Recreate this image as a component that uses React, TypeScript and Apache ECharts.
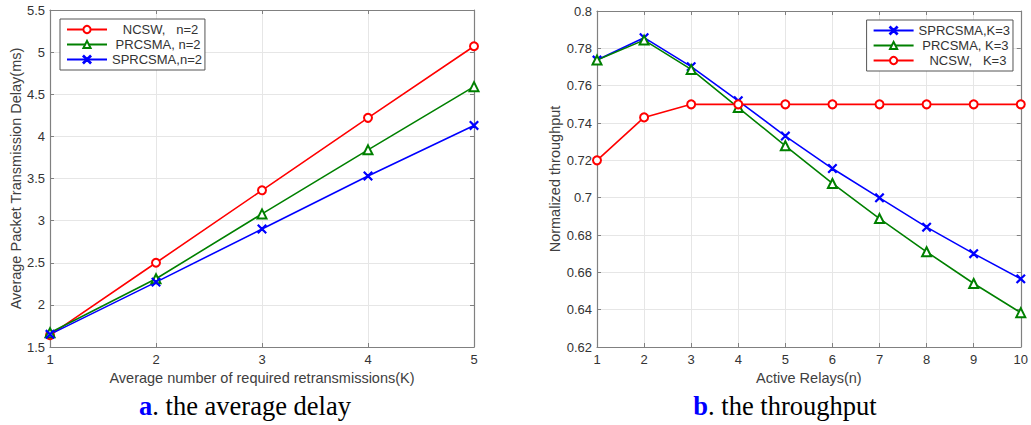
import React, { useEffect, useRef } from "react";
import * as echarts from "echarts";

const kValues = [1, 2, 3, 4, 5];
const delayNCSW = [1.64, 2.5, 3.36, 4.22, 5.07];
const delayPRCSMA = [1.67, 2.31, 3.08, 3.84, 4.59];
const delaySPRCSMA = [1.65, 2.27, 2.9, 3.53, 4.13];

const relays = [1, 2, 3, 4, 5, 6, 7, 8, 9, 10];
const thrSPRCSMA = [0.7737, 0.7857, 0.7702, 0.7519, 0.733, 0.7156, 0.6999, 0.6842, 0.670, 0.6565];
const thrPRCSMA = [0.7737, 0.7844, 0.7687, 0.7483, 0.7278, 0.7076, 0.6888, 0.671, 0.654, 0.6384];
const thrNCSW = [0.72, 0.743, 0.75, 0.75, 0.75, 0.75, 0.75, 0.75, 0.75, 0.75];

const leftNames = ["   NCSW,   n=2", " PRCSMA, n=2", "SPRCSMA,n=2"];
const rightNames = ["SPRCSMA,K=3", " PRCSMA, K=3", "   NCSW,   K=3"];

const RED = "#ff0000";
const GREEN = "#008000";
const BLUE = "#0000ff";
const FRAME = "#808080";
const GRID = "#e6e6e6";
const LABEL = "#333333";
const FONT = "Liberation Sans, Arial, sans-serif";
const SERIF = "Liberation Serif, Times New Roman, serif";
const XSYM = "path://M0,0.7L0.7,0L5,4.3L9.3,0L10,0.7L5.7,5L10,9.3L9.3,10L5,5.7L0.7,10L0,9.3L4.3,5Z";

const zip = (xs: number[], ys: number[]) => xs.map((x, i) => [x, ys[i]]);

function App() {
  const ref = useRef<HTMLDivElement>(null);
  useEffect(() => {
    if (!ref.current) return;
    const chart = echarts.init(ref.current, null, { renderer: "svg" });

    const mkX = (gridIndex: number, min: number, max: number, name: string, top: boolean) => ({
      type: "value",
      gridIndex,
      min,
      max,
      interval: 1,
      position: top ? "top" : "bottom",
      name: top ? "" : name,
      nameLocation: "middle",
      nameGap: 21,
      nameTextStyle: { fontFamily: FONT, fontSize: 14.5, color: "#404040" },
      axisLine: { show: true, onZero: false, lineStyle: { color: FRAME, width: 1.2 } },
      axisTick: { show: true, inside: true, length: 4, lineStyle: { color: FRAME } },
      axisLabel: { show: !top, fontFamily: FONT, fontSize: 13, color: LABEL, margin: 6 },
      splitLine: { show: !top, lineStyle: { color: GRID, width: 1 } },
    });

    const mkY = (
      gridIndex: number,
      min: number,
      max: number,
      interval: number,
      name: string,
      gap: number,
      right: boolean
    ) => ({
      type: "value",
      gridIndex,
      min,
      max,
      interval,
      position: right ? "right" : "left",
      name: right ? "" : name,
      nameLocation: "middle",
      nameGap: gap,
      nameTextStyle: { fontFamily: FONT, fontSize: 14.5, color: "#404040" },
      axisLine: { show: true, onZero: false, lineStyle: { color: FRAME, width: 1.2 } },
      axisTick: { show: true, inside: true, length: 4, lineStyle: { color: FRAME } },
      axisLabel: {
        show: !right,
        fontFamily: FONT,
        fontSize: 13,
        color: LABEL,
        margin: 5,
        formatter: (v: number) => String(parseFloat(v.toFixed(2))),
      },
      splitLine: { show: !right, lineStyle: { color: GRID, width: 1 } },
    });

    const line = (name: string, color: string, symbol: string, size: number, data: number[][], idx: number) => ({
      type: "line",
      name,
      xAxisIndex: idx,
      yAxisIndex: idx,
      data,
      symbol,
      symbolSize: size,
      showAllSymbol: true,
      lineStyle: { color, width: 1.6 },
      itemStyle: { color, borderColor: color, borderWidth: 1.4 },
      emphasis: { disabled: true },
    });

    const legendBase = {
      orient: "vertical",
      itemWidth: 40,
      itemHeight: 9,
      itemGap: 2,
      padding: [4, 3, 4, 6],
      borderColor: "#555",
      borderWidth: 1,
      backgroundColor: "#fff",
      textStyle: { fontFamily: FONT, fontSize: 13, color: LABEL },
      selectedMode: false,
    };

    const caption = (x: number, letter: string, rest: string) => ({
      type: "text",
      x,
      y: 406,
      style: {
        text: `{a|${letter}}{t|${rest}}`,
        align: "center",
        verticalAlign: "middle",
        rich: {
          a: { fontFamily: SERIF, fontSize: 26.5, fontWeight: "bold", fill: BLUE },
          t: { fontFamily: SERIF, fontSize: 26.5, fill: "#000" },
        },
      },
    });

    chart.setOption({
      animation: false,
      backgroundColor: "#fff",
      grid: [
        { left: 50, top: 10, width: 424, height: 337 },
        { left: 597, top: 11, width: 426, height: 336 },
      ],
      xAxis: [
        mkX(0, 1, 5, "Average number of required retransmissions(K)", false),
        mkX(0, 1, 5, "", true),
        mkX(1, 1, 10, "Active Relays(n)", false),
        mkX(1, 1, 10, "", true),
      ],
      yAxis: [
        mkY(0, 1.5, 5.5, 0.5, "Average Packet Transmission Delay(ms)", 25, false),
        mkY(0, 1.5, 5.5, 0.5, "", 25, true),
        mkY(1, 0.62, 0.8, 0.02, "Normalized throughput", 34, false),
        mkY(1, 0.62, 0.8, 0.02, "", 34, true),
      ],
      legend: [
        { ...legendBase, left: 60, top: 19, data: leftNames },
        { ...legendBase, right: 18, top: 20, data: rightNames },
      ],
      series: [
        line(leftNames[0], RED, "emptyCircle", 8, zip(kValues, delayNCSW), 0),
        line(leftNames[1], GREEN, "emptyTriangle", 9, zip(kValues, delayPRCSMA), 0),
        line(leftNames[2], BLUE, XSYM, 8, zip(kValues, delaySPRCSMA), 0),
        line(rightNames[0], BLUE, XSYM, 8, zip(relays, thrSPRCSMA), 2),
        line(rightNames[1], GREEN, "emptyTriangle", 9, zip(relays, thrPRCSMA), 2),
        line(rightNames[2], RED, "emptyCircle", 8, zip(relays, thrNCSW), 2),
      ],
      graphic: [caption(245, "a", ". the average delay"), caption(785, "b", ". the throughput")],
    });
    return () => chart.dispose();
  }, []);
  return <div ref={ref} style={{ position: "absolute", left: 0, top: 0, width: 1031, height: 425 }} />;
}

export default App;
